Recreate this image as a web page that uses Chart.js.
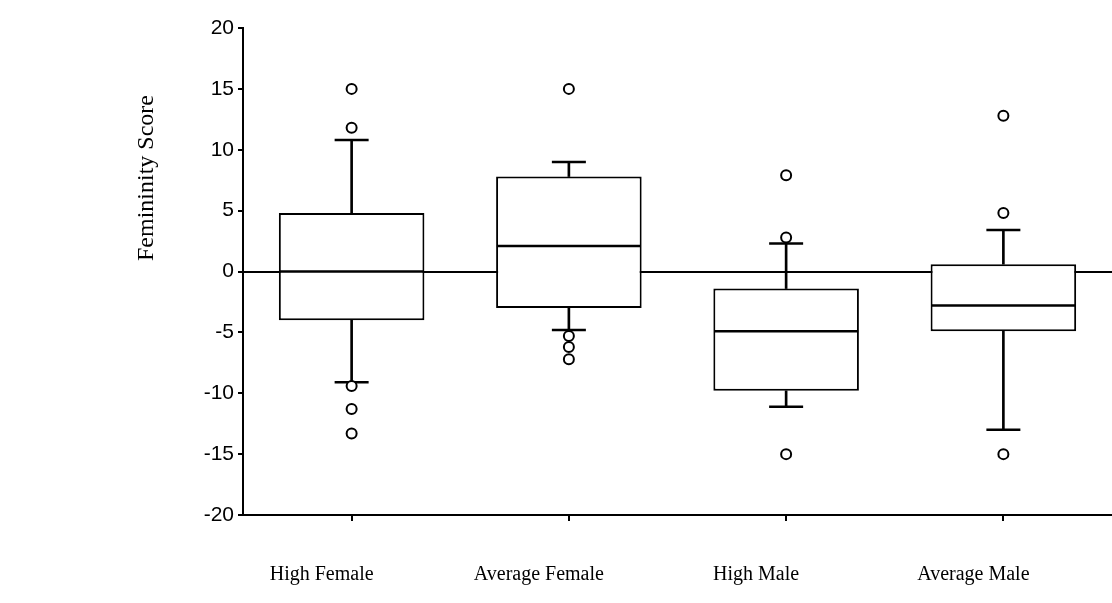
<!DOCTYPE html>
<html>
<head>
<meta charset="utf-8">
<title>Femininity Score</title>
<script src="https://cdn.jsdelivr.net/npm/chart.js@4"></script>
<style>
  html, body { margin: 0; padding: 0; background: #fff; }
  #wrap { width: 1112px; height: 603px; }
</style>
</head>
<body>
<div id="wrap"><canvas id="boxChart" width="1112" height="603"></canvas></div>
<script>
// Datos (diagrama de caja)
const categories = ["High Female", "Average Female", "High Male", "Average Male"];
const q1 = [-4, -3, -9.8, -4.9];
const q3 = [4.8, 7.8, -1.4, 0.6];
const medians = [0, 2.1, -4.9, -2.8];
const whiskerLow = [-9.1, -4.8, -11.1, -13];
const whiskerHigh = [10.8, 9, 2.3, 3.4];
const outliers = [
  [15, 11.8, -9.4, -11.3, -13.3],
  [15, -5.3, -6.2, -7.2],
  [7.9, 2.8, -15],
  [12.8, 4.8, -15]
];
const yTicks = [-20, -15, -10, -5, 0, 5, 10, 15, 20];

const INK = "#000";

// puntos {x: categoría, y: valor}
function pointsFor(values) {
  return values.map((v, i) => ({ x: categories[i], y: v }));
}
const outlierPoints = [];
outliers.forEach((list, i) => list.forEach(v => outlierPoints.push({ x: categories[i], y: v })));

// título del eje Y, colocado como en el original (más arriba del centro)
const yTitlePlugin = {
  id: "yTitle",
  afterDraw(chart) {
    const { ctx, chartArea } = chart;
    ctx.save();
    ctx.translate(chartArea.left - 96, chartArea.top + 150);
    ctx.rotate(-Math.PI / 2);
    ctx.font = '24px "Liberation Serif"';
    ctx.fillStyle = INK;
    ctx.textAlign = "center";
    ctx.textBaseline = "middle";
    ctx.fillText("Femininity Score", 0, 0);
    ctx.restore();
  }
};

new Chart(document.getElementById("boxChart"), {
  type: "bar",
  data: {
    labels: categories,
    datasets: [
      {
        type: "scatter",
        label: "outliers",
        data: outlierPoints,
        pointStyle: "circle",
        pointRadius: 5,
        borderColor: INK,
        backgroundColor: "#fff",
        borderWidth: 2
      },
      {
        type: "scatter",
        label: "median",
        data: pointsFor(medians),
        pointStyle: "line",
        pointRadius: 72,
        borderColor: INK,
        borderWidth: 2.5
      },
      {
        type: "scatter",
        label: "capHigh",
        data: pointsFor(whiskerHigh),
        pointStyle: "line",
        pointRadius: 17,
        borderColor: INK,
        borderWidth: 2.5
      },
      {
        type: "scatter",
        label: "capLow",
        data: pointsFor(whiskerLow),
        pointStyle: "line",
        pointRadius: 17,
        borderColor: INK,
        borderWidth: 2.5
      },
      {
        label: "box",
        data: q1.map((v, i) => [v, q3[i]]),
        backgroundColor: "#fff",
        borderColor: INK,
        borderWidth: 2,
        borderSkipped: false,
        grouped: false,
        barPercentage: 0.67,
        categoryPercentage: 1
      },
      {
        label: "whiskerHigh",
        data: q3.map((v, i) => [v, whiskerHigh[i]]),
        backgroundColor: INK,
        barThickness: 2,
        grouped: false
      },
      {
        label: "whiskerLow",
        data: q1.map((v, i) => [v, whiskerLow[i]]),
        backgroundColor: INK,
        barThickness: 2,
        grouped: false
      }
    ]
  },
  options: {
    responsive: false,
    animation: false,
    layout: { autoPadding: false, padding: { top: 28, right: 0, left: 0, bottom: 0 } },
    plugins: {
      legend: { display: false },
      tooltip: { enabled: false },
      title: { display: false }
    },
    scales: {
      x: {
        type: "category",
        offset: true,
        grid: { offset: false, drawOnChartArea: false, tickColor: INK, tickLength: 6, lineWidth: 2 },
        border: { display: true, color: INK, width: 2 },
        ticks: {
          color: INK,
          font: { family: '"Liberation Serif"', size: 20 },
          padding: 42,
          labelOffset: -30,
          maxRotation: 0
        },
        afterFit: (scale) => {
          scale.height = 88;
          scale.paddingLeft = 0;
          scale.paddingRight = 0;
        }
      },
      y: {
        min: -20,
        max: 20,
        afterBuildTicks: (scale) => { scale.ticks = yTicks.map(v => ({ value: v })); },
        grid: {
          drawOnChartArea: true,
          color: (ctx) => (ctx.tick && ctx.tick.value === 0 ? INK : "rgba(0,0,0,0)"),
          lineWidth: 2,
          tickColor: INK,
          tickLength: 5
        },
        border: { display: true, color: INK, width: 2 },
        ticks: {
          color: INK,
          font: { family: '"Liberation Sans"', size: 21 },
          padding: 4
        },
        afterFit: (scale) => {
          scale.width = 243;
          scale.paddingTop = 0;
          scale.paddingBottom = 0;
        }
      }
    }
  },
  plugins: [yTitlePlugin]
});
</script>
</body>
</html>
